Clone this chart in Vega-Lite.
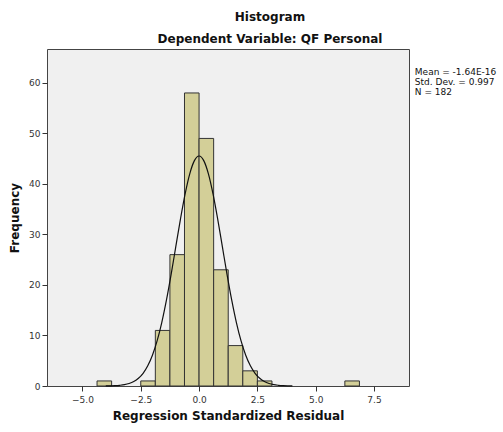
{
  "$schema": "https://vega.github.io/schema/vega-lite/v6.json",
  "width": 362,
  "height": 337,
  "autosize": {"type": "none"},
  "padding": {"left": 47, "top": 49, "right": 94, "bottom": 46},
  "background": "white",
  "config": {
    "font": "DejaVu Sans",
    "view": {"fill": "#f0f0f0", "stroke": "#444444", "strokeWidth": 1},
    "axis": {"grid": false, "domain": false, "tickColor": "#333333", "labelColor": "#333333", "labelFontSize": 9, "titleFontSize": 12, "titleFontWeight": "bold", "titleColor": "#111111", "tickSize": 5}
  },
  "title": {
    "text": "Histogram",
    "subtitle": "Dependent Variable: QF Personal",
    "fontSize": 12,
    "fontWeight": "bold",
    "subtitleFontSize": 12,
    "subtitleFontWeight": "bold",
    "subtitleColor": "#111111",
    "color": "#111111",
    "anchor": "middle",
    "dx": 42,
    "subtitlePadding": 10,
    "offset": 3
  },
  "datasets": {
    "bins": [
      {"bin_start": -4.375, "bin_end": -3.75, "count": 1},
      {"bin_start": -2.5, "bin_end": -1.875, "count": 1},
      {"bin_start": -1.875, "bin_end": -1.25, "count": 11},
      {"bin_start": -1.25, "bin_end": -0.625, "count": 26},
      {"bin_start": -0.625, "bin_end": 0, "count": 58},
      {"bin_start": 0, "bin_end": 0.625, "count": 49},
      {"bin_start": 0.625, "bin_end": 1.25, "count": 23},
      {"bin_start": 1.25, "bin_end": 1.875, "count": 8},
      {"bin_start": 1.875, "bin_end": 2.5, "count": 3},
      {"bin_start": 2.5, "bin_end": 3.125, "count": 1},
      {"bin_start": 6.25, "bin_end": 6.875, "count": 1}
    ],
    "curve": [
      {"x": -4.0, "y": 0.015}, {"x": -3.8, "y": 0.032}, {"x": -3.6, "y": 0.067}, {"x": -3.4, "y": 0.14},
      {"x": -3.2, "y": 0.26}, {"x": -3.0, "y": 0.49}, {"x": -2.8, "y": 0.88}, {"x": -2.6, "y": 1.52},
      {"x": -2.4, "y": 2.51}, {"x": -2.2, "y": 3.99}, {"x": -2.0, "y": 6.09}, {"x": -1.8, "y": 8.92},
      {"x": -1.6, "y": 12.56}, {"x": -1.4, "y": 16.99}, {"x": -1.2, "y": 22.06}, {"x": -1.0, "y": 27.52},
      {"x": -0.8, "y": 32.99}, {"x": -0.6, "y": 37.98}, {"x": -0.4, "y": 42.0}, {"x": -0.2, "y": 44.61},
      {"x": 0.0, "y": 45.52}, {"x": 0.2, "y": 44.61}, {"x": 0.4, "y": 42.0}, {"x": 0.6, "y": 37.98},
      {"x": 0.8, "y": 32.99}, {"x": 1.0, "y": 27.52}, {"x": 1.2, "y": 22.06}, {"x": 1.4, "y": 16.99},
      {"x": 1.6, "y": 12.56}, {"x": 1.8, "y": 8.92}, {"x": 2.0, "y": 6.09}, {"x": 2.2, "y": 3.99},
      {"x": 2.4, "y": 2.51}, {"x": 2.6, "y": 1.52}, {"x": 2.8, "y": 0.88}, {"x": 3.0, "y": 0.49},
      {"x": 3.2, "y": 0.26}, {"x": 3.4, "y": 0.14}, {"x": 3.6, "y": 0.067}, {"x": 3.8, "y": 0.032},
      {"x": 4.0, "y": 0.015}
    ],
    "stats": [
      {"label": ["Mean = -1.64E-16", "Std. Dev. = 0.997", "N = 182"]}
    ]
  },
  "layer": [
    {
      "data": {"name": "bins"},
      "mark": {"type": "rect", "fill": "#d3cf98", "stroke": "#333333", "strokeWidth": 1},
      "encoding": {
        "x": {"field": "bin_start", "type": "quantitative", "scale": {"domain": [-6.52, 9.0], "nice": false, "zero": false},
              "axis": {"values": [-5, -2.5, 0, 2.5, 5, 7.5], "format": ".1f", "title": "Regression Standardized Residual", "titlePadding": 6, "labelPadding": 4}},
        "x2": {"field": "bin_end"},
        "y": {"field": "count", "type": "quantitative", "scale": {"domain": [0, 66.7], "nice": false},
              "axis": {"values": [0, 10, 20, 30, 40, 50, 60], "title": "Frequency", "titlePadding": 7, "labelPadding": 2}},
        "y2": {"datum": 0}
      }
    },
    {
      "data": {"name": "curve"},
      "mark": {"type": "line", "color": "#111111", "strokeWidth": 1.2, "interpolate": "monotone"},
      "encoding": {
        "x": {"field": "x", "type": "quantitative"},
        "y": {"field": "y", "type": "quantitative"}
      }
    },
    {
      "data": {"name": "stats"},
      "mark": {"type": "text", "align": "left", "baseline": "top", "fontSize": 9, "color": "#111111", "lineHeight": 10},
      "encoding": {
        "x": {"datum": 9.25, "type": "quantitative"},
        "y": {"datum": 62.9, "type": "quantitative"},
        "text": {"field": "label"}
      }
    }
  ]
}
